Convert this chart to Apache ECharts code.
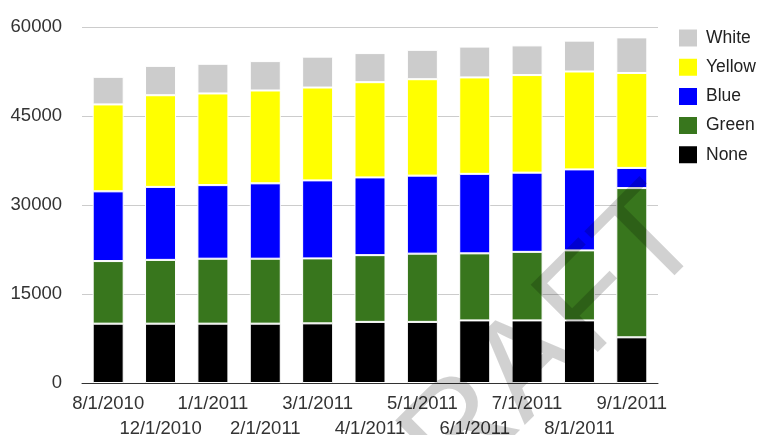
<!DOCTYPE html>
<html>
<head>
<meta charset="utf-8">
<script src="https://cdn.jsdelivr.net/npm/echarts@6/dist/echarts.min.js"></script>
<style>
html,body{margin:0;padding:0;background:#fff;overflow:hidden;}
#chart{width:760px;height:435px;}
</style>
</head>
<body>
<div id="chart"></div>
<script>
var categories = ['8/1/2010','12/1/2010','1/1/2011','2/1/2011','3/1/2011','4/1/2011','5/1/2011','6/1/2011','7/1/2011','8/1/2011','9/1/2011'];
var noneValues   = [10000, 10000, 10000, 10000, 10050, 10300, 10300, 10550, 10550, 10550, 7700];
var greenValues  = [10550, 10750, 10950, 10950, 10950, 11250, 11500, 11300, 11550, 11800, 25150];
var blueValues   = [11750, 12300, 12400, 12700, 13150, 13100, 13150, 13400, 13350, 13650, 3400];
var yellowValues = [14650, 15450, 15450, 15650, 15650, 16050, 16250, 16250, 16450, 16500, 16000];
var whiteValues  = [4650, 4950, 5000, 4950, 5200, 4900, 4950, 5200, 5000, 5200, 6000];
var yTicks = [0, 15000, 30000, 45000, 60000];
var legendOrder = ['White','Yellow','Blue','Green','None'];

var FONT = '"Liberation Sans", Arial, sans-serif';
function bar(name, data, color) {
  return {
    name: name, type: 'bar', stack: 'total', data: data, barWidth: 31,
    itemStyle: { color: color, borderColor: '#ffffff', borderWidth: 1 },
    emphasis: { disabled: true }
  };
}

var chart = echarts.init(document.getElementById('chart'), null, { renderer: 'canvas', width: 760, height: 435 });
chart.setOption({
  animation: false,
  backgroundColor: '#ffffff',
  textStyle: { fontFamily: FONT },
  grid: { left: 82, right: 102, top: 27, bottom: 52, containLabel: false, outerBoundsMode: 'none' },
  legend: {
    orient: 'vertical', left: 677, top: 27.5, padding: 0,
    data: legendOrder,
    icon: 'rect', itemWidth: 20, itemHeight: 19, itemGap: 8.2,
    textStyle: { fontFamily: FONT, fontSize: 17.5, color: '#222', lineHeight: 19, padding: [0,0,0,3] },
    selectedMode: false
  },
  xAxis: {
    type: 'category', data: categories,
    axisLine: { lineStyle: { color: '#333', width: 1 } },
    axisTick: { show: false },
    axisLabel: {
      interval: 0, margin: 8, fontFamily: FONT, fontSize: 18.5, color: '#333', lineHeight: 25,
      formatter: function (v, i) { return i % 2 ? '\n' + v : v; }
    }
  },
  yAxis: {
    type: 'value', min: yTicks[0], max: yTicks[yTicks.length - 1], interval: 15000,
    axisLine: { show: false }, axisTick: { show: false },
    splitLine: { lineStyle: { color: '#cccccc', width: 1 } },
    axisLabel: { margin: 20, fontFamily: FONT, fontSize: 18.5, color: '#333',
      formatter: function (v) { return String(v); } }
  },
  series: [
    bar('None', noneValues, '#000000'),
    bar('Green', greenValues, '#38761d'),
    bar('Blue', blueValues, '#0000ff'),
    bar('Yellow', yellowValues, '#ffff00'),
    bar('White', whiteValues, '#cccccc')
  ],
  graphic: [{
    type: 'text', x: 682, y: 214, rotation: Math.PI / 4, z: 100, silent: true,
    style: {
      text: 'DRAFT', font: '138px ' + FONT, fill: 'rgba(0,0,0,0.18)',
      align: 'right', verticalAlign: 'middle', textAlign: 'right', textVerticalAlign: 'middle'
    }
  }]
});
</script>
</body>
</html>
